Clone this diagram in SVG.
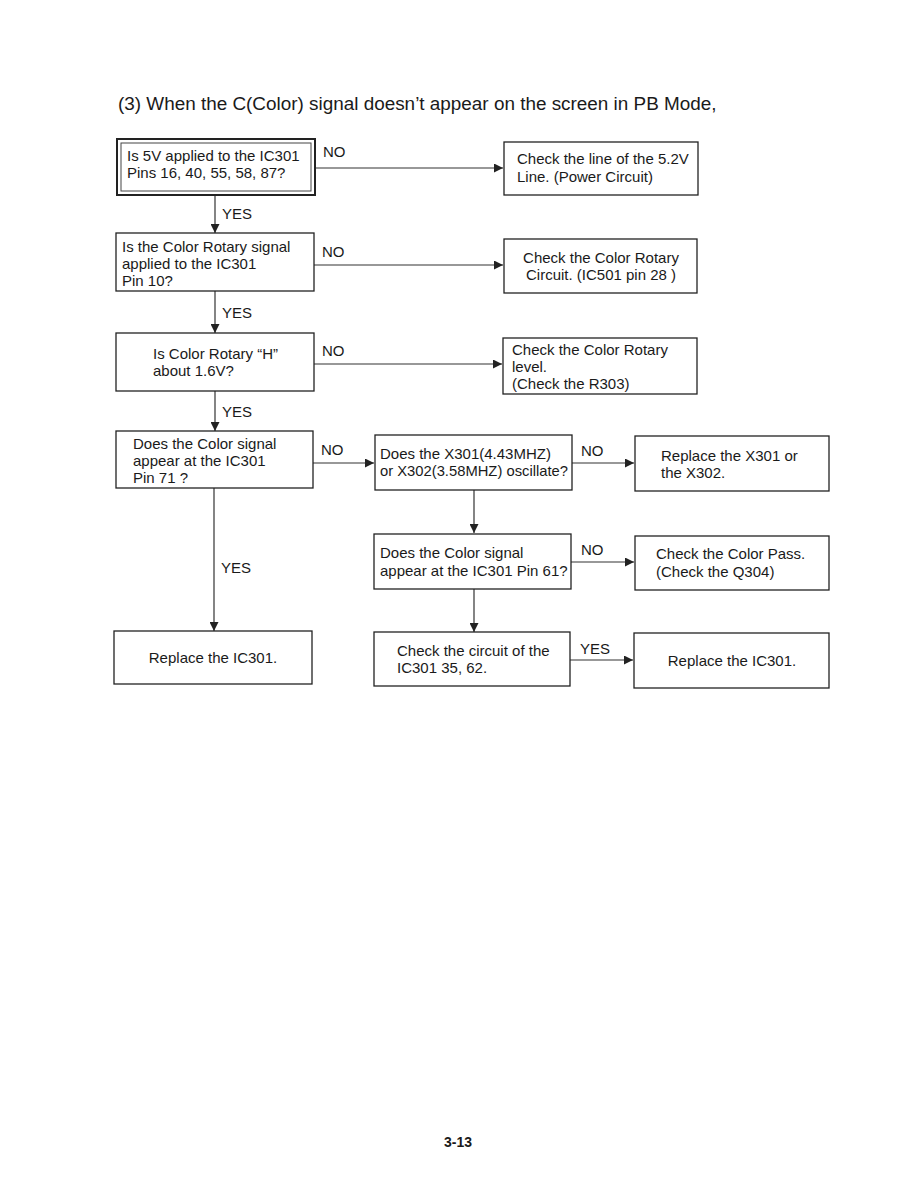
<svg xmlns="http://www.w3.org/2000/svg" width="918" height="1188" viewBox="0 0 918 1188">
<style>
text{font-family:"Liberation Sans",Arial,sans-serif;font-size:15px;fill:#1a1a1a}
.box{fill:#fff;stroke:#222;stroke-width:1.3}
.ln{stroke:#333;stroke-width:1.2;fill:none}
.mid{text-anchor:middle}
</style>
<defs>
<marker id="ah" viewBox="0 0 10 10" refX="10" refY="5" markerWidth="9" markerHeight="9" markerUnits="userSpaceOnUse" orient="auto">
<path d="M0,0 L10,5 L0,10 z" fill="#222"/>
</marker>
</defs>
<rect width="918" height="1188" fill="#fff"/>
<text x="118" y="110" style="font-size:18.9px">(3) When the C(Color) signal doesn’t appear on the screen in PB Mode,</text>

<g id="connectors">
<line class="ln" x1="315" y1="168" x2="503" y2="168" marker-end="url(#ah)"/>
<text x="323" y="157">NO</text>
<line class="ln" x1="215" y1="195" x2="215" y2="233" marker-end="url(#ah)"/>
<text x="222" y="219">YES</text>
<line class="ln" x1="314" y1="265" x2="503" y2="265" marker-end="url(#ah)"/>
<text x="322" y="257">NO</text>
<line class="ln" x1="215" y1="291" x2="215" y2="333" marker-end="url(#ah)"/>
<text x="222" y="318">YES</text>
<line class="ln" x1="314" y1="364" x2="502" y2="364" marker-end="url(#ah)"/>
<text x="322" y="356">NO</text>
<line class="ln" x1="215" y1="391" x2="215" y2="431" marker-end="url(#ah)"/>
<text x="222" y="417">YES</text>
<line class="ln" x1="313" y1="463" x2="374" y2="463" marker-end="url(#ah)"/>
<text x="321" y="455">NO</text>
<line class="ln" x1="572" y1="463" x2="634" y2="463" marker-end="url(#ah)"/>
<text x="581" y="456">NO</text>
<line class="ln" x1="474" y1="490" x2="474" y2="533" marker-end="url(#ah)"/>
<line class="ln" x1="571" y1="562" x2="634" y2="562" marker-end="url(#ah)"/>
<text x="581" y="555">NO</text>
<line class="ln" x1="474" y1="589" x2="474" y2="632" marker-end="url(#ah)"/>
<line class="ln" x1="570" y1="660" x2="633" y2="660" marker-end="url(#ah)"/>
<text x="580" y="654">YES</text>
<line class="ln" x1="214" y1="488" x2="214" y2="631" marker-end="url(#ah)"/>
<text x="221" y="573">YES</text>
</g>

<g id="n1">
<rect x="117" y="139" width="198" height="56" fill="#fff" stroke="#222" stroke-width="2"/>
<rect x="121" y="143" width="190" height="48" fill="none" stroke="#444" stroke-width="1"/>
<text x="127" y="161">Is 5V applied to the IC301</text>
<text x="127" y="178">Pins 16, 40, 55, 58, 87?</text>
</g>
<g id="n1r">
<rect class="box" x="504" y="142" width="194" height="53"/>
<text x="517" y="164">Check the line of the 5.2V</text>
<text x="517" y="182">Line. (Power Circuit)</text>
</g>
<g id="n2">
<rect class="box" x="116" y="233" width="198" height="58"/>
<text x="122" y="252">Is the Color Rotary signal</text>
<text x="122" y="269">applied to the IC301</text>
<text x="122" y="286">Pin 10?</text>
</g>
<g id="n2r">
<rect class="box" x="504" y="239" width="193" height="54"/>
<text class="mid" x="601" y="263">Check the Color Rotary</text>
<text class="mid" x="601" y="280">Circuit. (IC501 pin 28 )</text>
</g>
<g id="n3">
<rect class="box" x="116" y="333" width="198" height="58"/>
<text x="153" y="359">Is Color Rotary “H”</text>
<text x="153" y="376">about 1.6V?</text>
</g>
<g id="n3r">
<rect class="box" x="503" y="338" width="194" height="56"/>
<text x="512" y="355">Check the Color Rotary</text>
<text x="512" y="372">level.</text>
<text x="512" y="389">(Check the R303)</text>
</g>
<g id="n4">
<rect class="box" x="116" y="431" width="197" height="57"/>
<text x="133" y="449">Does the Color signal</text>
<text x="133" y="466">appear at the IC301</text>
<text x="133" y="483">Pin 71 ?</text>
</g>
<g id="n5">
<rect class="box" x="375" y="435" width="197" height="55"/>
<text x="380" y="459">Does the X301(4.43MHZ)</text>
<text x="380" y="476" textLength="188" lengthAdjust="spacingAndGlyphs">or X302(3.58MHZ) oscillate?</text>
</g>
<g id="n6">
<rect class="box" x="635" y="436" width="194" height="55"/>
<text x="661" y="461">Replace the X301 or</text>
<text x="661" y="478">the X302.</text>
</g>
<g id="n7">
<rect class="box" x="374" y="534" width="197" height="55"/>
<text x="380" y="558">Does the Color signal</text>
<text x="380" y="576">appear at the IC301 Pin 61?</text>
</g>
<g id="n8">
<rect class="box" x="635" y="536" width="194" height="54"/>
<text x="656" y="559">Check the Color Pass.</text>
<text x="656" y="577">(Check the Q304)</text>
</g>
<g id="n9">
<rect class="box" x="374" y="632" width="196" height="54"/>
<text x="397" y="656">Check the circuit of the</text>
<text x="397" y="673">IC301 35, 62.</text>
</g>
<g id="n10">
<rect class="box" x="634" y="633" width="195" height="55"/>
<text class="mid" x="732" y="666">Replace the IC301.</text>
</g>
<g id="n11">
<rect class="box" x="114" y="631" width="198" height="53"/>
<text class="mid" x="213" y="663">Replace the IC301.</text>
</g>
<text x="444" y="1147" style="font-size:14px;font-weight:bold">3-13</text>
</svg>
